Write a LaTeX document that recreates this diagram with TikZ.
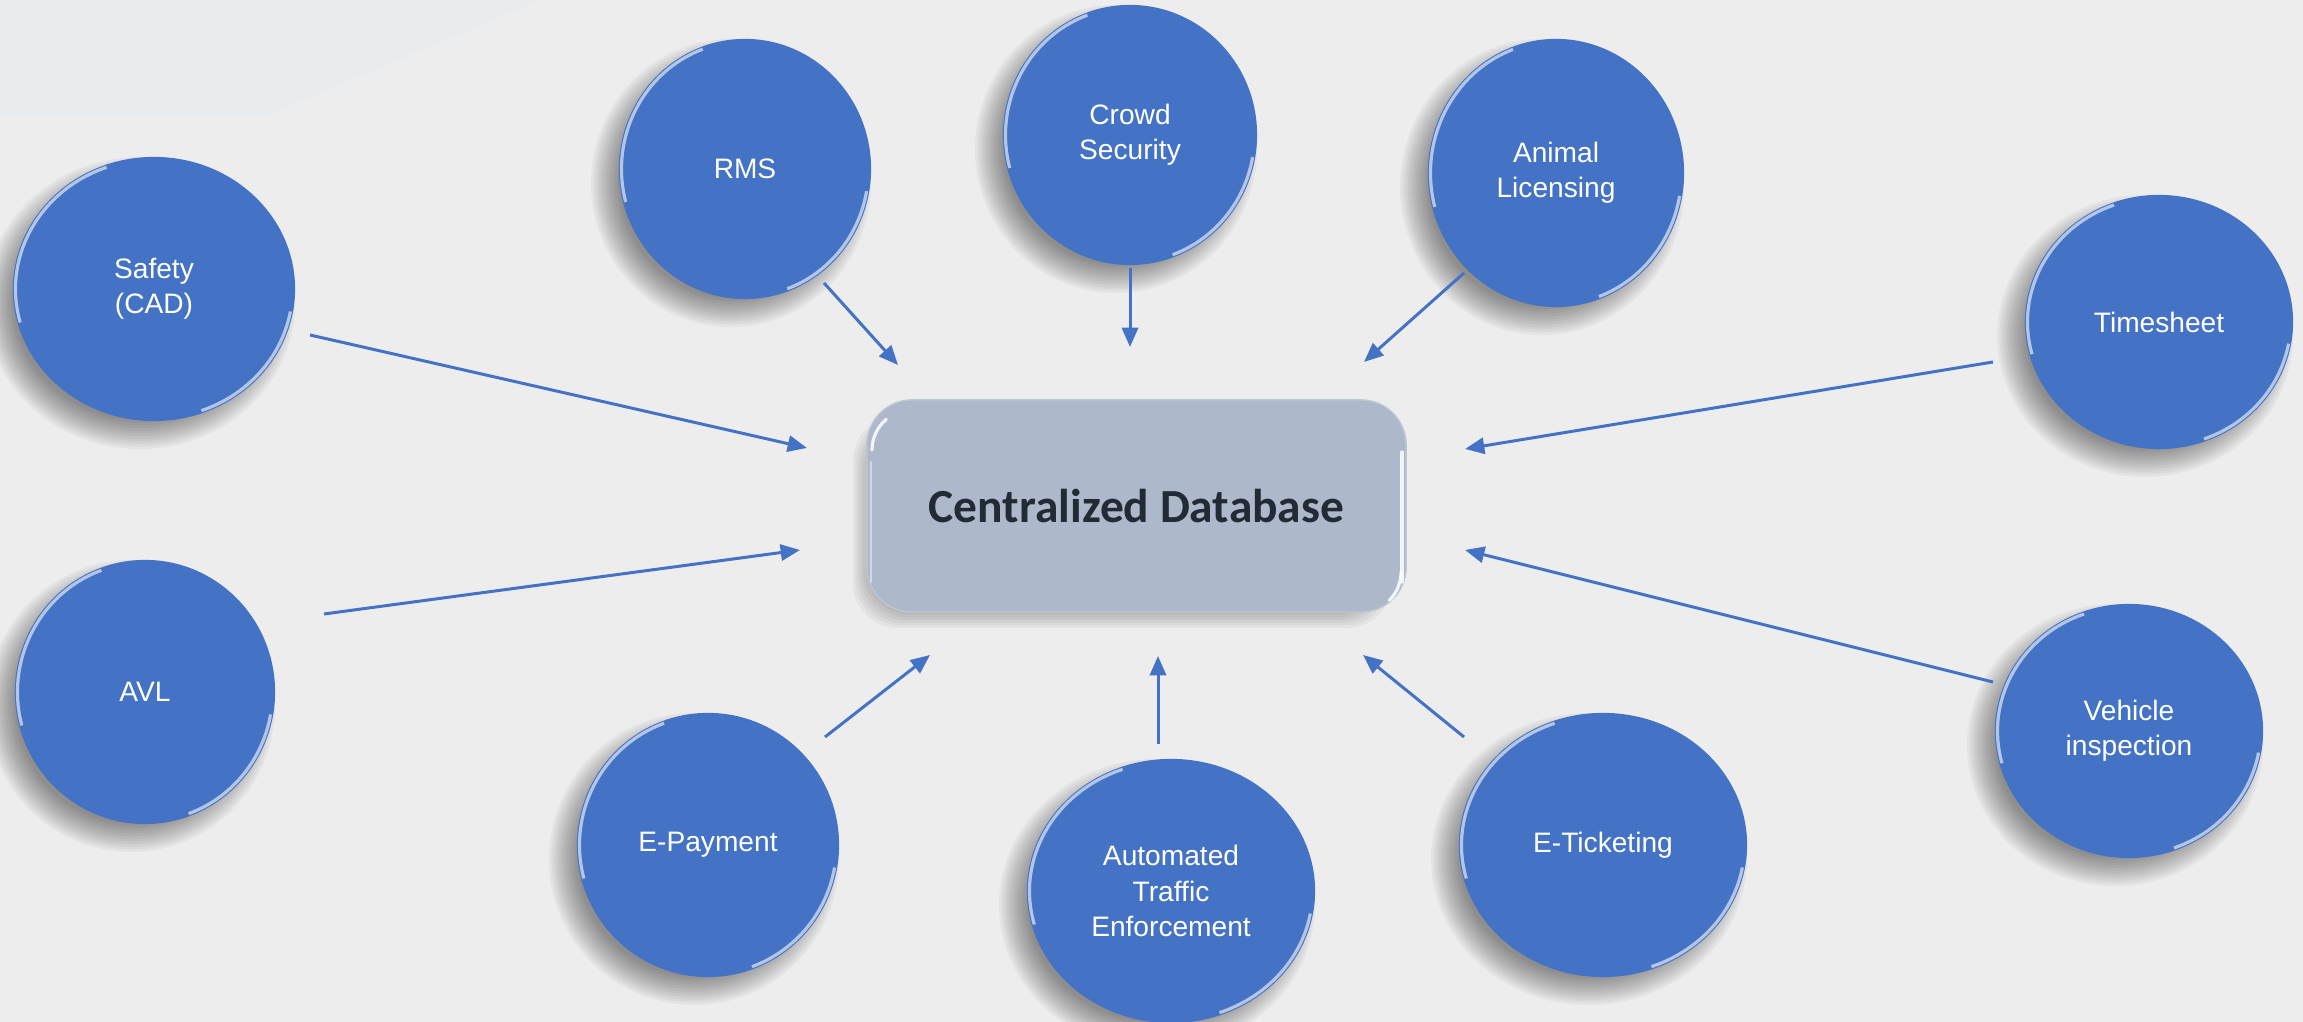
\documentclass[tikz,border=0pt]{standalone}
\usepackage{fontspec}
\setmainfont{Liberation Sans}
\newfontfamily\calibfont{Carlito}
\usetikzlibrary{shapes.geometric,arrows.meta}
\definecolor{bg}{HTML}{EDEDED}
\definecolor{bgl}{HTML}{E9ECEF}
\definecolor{bub}{HTML}{4472C4}
\definecolor{dbfill}{HTML}{ADB9CA}
\definecolor{dbtext}{HTML}{222A35}
\newcommand\bshadow[4]{%
  \foreach \k in {0,...,11}{%
    \fill[black,opacity=0.04] (#1-14,#2-14) ellipse [x radius={#3+14-2.6*\k}, y radius={#4+14-2.6*\k}];}}
\newcommand\rshadow[4]{%
  \foreach \k in {0,...,11}{%
    \fill[black,opacity=0.04,rounded corners=45*0.01cm] ({#1-14+2.6*\k},{#2-16+2.6*\k}) rectangle ({#3-14-2.6*\k},{#4-16-2.6*\k});}}
\begin{document}
\begin{tikzpicture}[x=0.01cm,y=0.01cm,
  bubble/.style 2 args={ellipse, fill=bub, minimum width=#1*0.02cm, minimum height=#2*0.02cm,
    inner sep=0pt, text=white, align=center, font=\fontsize{8}{10}\selectfont,
    path picture={
      \pgfmathsetmacro\rxa{#1-2.5}\pgfmathsetmacro\rya{#2-2.5}
      \draw[white, opacity=.6, line width=.9pt]
        ([shift={(110:\rxa\space and \rya)}]path picture bounding box.center)
        arc[start angle=110, end angle=195, x radius=\rxa, y radius=\rya];
      \draw[white, opacity=.6, line width=.9pt]
        ([shift={(-70:\rxa\space and \rya)}]path picture bounding box.center)
        arc[start angle=-70, end angle=-10, x radius=\rxa, y radius=\rya];
    }},
  dbbox/.style={rectangle, rounded corners=0.45cm, fill=dbfill, draw=dbfill!80!white, line width=.4pt,
    minimum width=5.39cm, minimum height=2.12cm, inner sep=0pt, text=dbtext,
    font=\calibfont\bfseries\fontsize{13.5}{16}\selectfont},
  gloss/.style={white, line width=.9pt, line cap=round},
  conn/.style={draw=bub, line width=0.85pt, -{Triangle[length=5.5pt,width=4.6pt]}}
]
\useasboundingbox (0,0) rectangle (2303,1022);
\fill[bg] (0,0) rectangle (2303,1022);
\fill[bgl] (0,1022) -- (540,1022) -- (268,907) -- (0,907) -- cycle;

% shadows
\rshadow{867}{410}{1406}{622}
\bshadow{154}{733}{141}{132}
\bshadow{745}{853}{126}{130}
\bshadow{1130}{887}{127}{130}
\bshadow{1556}{849}{128}{134}
\bshadow{2159}{700}{134}{127}
\bshadow{145}{330}{130}{132}
\bshadow{708}{177}{131}{132}
\bshadow{1171}{131}{144}{132}
\bshadow{1603}{177}{144}{132}
\bshadow{2129}{291}{134}{127}

% central box
\node[dbbox] (db) at (1136.5,516) {Centralized Database};
\draw[gloss, opacity=.85] (872,572) arc[start angle=180, end angle=130, radius=40];
\draw[gloss, opacity=.45, line width=.6pt] (871,560) -- (871,440);
\draw[gloss, opacity=.85] (1402,570) -- (1402,440);
\draw[gloss, opacity=.85] (1401,450) arc[start angle=0, end angle=-45, radius=40];

% bubbles
\node[bubble={141}{132}] (safety) at (154,733) {Safety\\(CAD)};
\node[bubble={126}{130}] (rms) at (745,853) {RMS};
\node[bubble={127}{130}] (crowd) at (1130,887) {Crowd\\Security};
\node[bubble={128}{134}] (animal) at (1556,849) {Animal\\Licensing};
\node[bubble={134}{127}] (time) at (2159,700) {Timesheet};
\node[bubble={130}{132}] (avl) at (145,330) {AVL};
\node[bubble={131}{132}] (epay) at (708,177) {E-Payment};
\node[bubble={144}{132}] (ate) at (1171,131) {Automated\\Traffic\\Enforcement};
\node[bubble={144}{132}] (eticket) at (1603,177) {E-Ticketing};
\node[bubble={134}{127}] (vehicle) at (2129,291) {Vehicle\\inspection};

% connector end points
\coordinate (safetyout) at (310,687);   \coordinate (safetyin) at (807,574);
\coordinate (avlout) at (324,408);      \coordinate (avlin) at (800,472);
\coordinate (rmsout) at (824,739);      \coordinate (rmsin) at (898,657);
\coordinate (crowdout) at (1130,754);   \coordinate (crowdin) at (1130,675);
\coordinate (animalout) at (1464,749);  \coordinate (animalin) at (1364,660);
\coordinate (timeout) at (1993,660);    \coordinate (timein) at (1465,573);
\coordinate (vehicleout) at (1993,340); \coordinate (vehiclein) at (1465,472);
\coordinate (epayout) at (825,285);     \coordinate (epayin) at (930,367);
\coordinate (ateout) at (1158,278);     \coordinate (atein) at (1158,366);
\coordinate (eticketout) at (1464,285); \coordinate (eticketin) at (1363,367);

\draw[conn] (safetyout) -- (safetyin);
\draw[conn] (avlout) -- (avlin);
\draw[conn] (rmsout) -- (rmsin);
\draw[conn] (crowdout) -- (crowdin);
\draw[conn] (animalout) -- (animalin);
\draw[conn] (timeout) -- (timein);
\draw[conn] (vehicleout) -- (vehiclein);
\draw[conn] (epayout) -- (epayin);
\draw[conn] (ateout) -- (atein);
\draw[conn] (eticketout) -- (eticketin);
\end{tikzpicture}
\end{document}
